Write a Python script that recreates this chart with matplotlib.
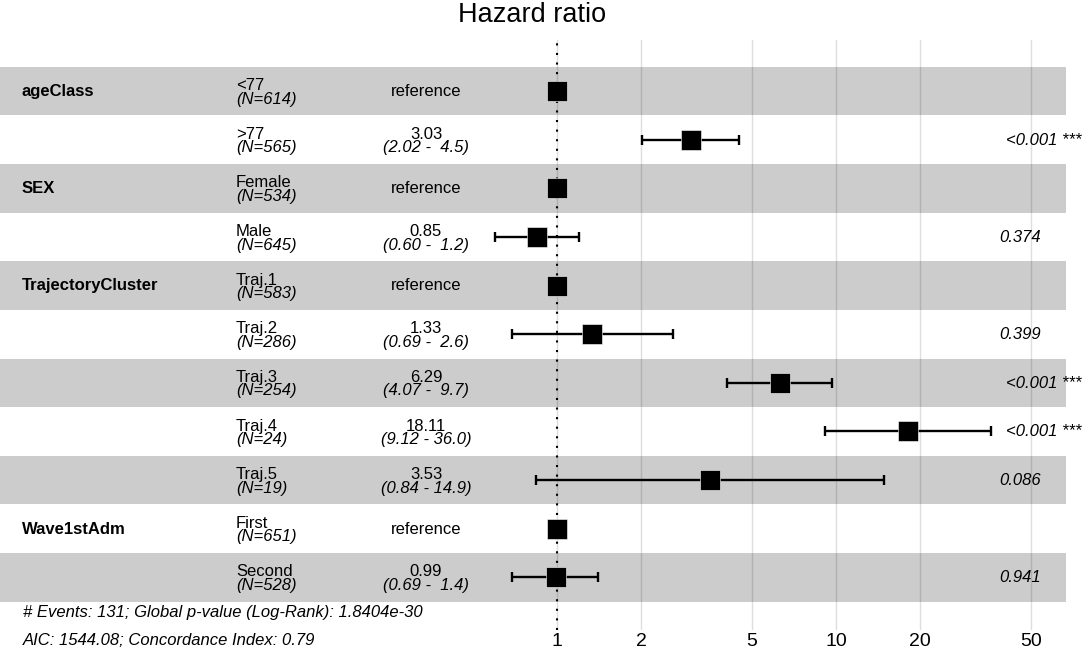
import numpy as np
import matplotlib
matplotlib.use("Agg")
import matplotlib.pyplot as plt
from matplotlib.transforms import blended_transform_factory, offset_copy

plt.rcParams['font.family'] = ['Liberation Sans', 'DejaVu Sans']

# rows of the forest plot, top to bottom
var_labels = ["ageClass", "", "SEX", "", "TrajectoryCluster", "", "", "", "", "Wave1stAdm", ""]
levels = ["<77", ">77", "Female", "Male", "Traj.1", "Traj.2", "Traj.3", "Traj.4", "Traj.5", "First", "Second"]
n_obs = [614, 565, 534, 645, 583, 286, 254, 24, 19, 651, 528]
is_ref = [True, False, True, False, True, False, False, False, False, True, False]
hr = [1, 3.03, 1, 0.85, 1, 1.33, 6.29, 18.11, 3.53, 1, 0.99]
ci_lo = [np.nan, 2.02, np.nan, 0.60, np.nan, 0.69, 4.07, 9.12, 0.84, np.nan, 0.69]
ci_hi = [np.nan, 4.5, np.nan, 1.2, np.nan, 2.6, 9.7, 36.0, 14.9, np.nan, 1.4]
p_labels = ["", "<0.001 ***", "", "0.374", "", "0.399", "<0.001 ***", "<0.001 ***", "0.086", "", "0.941"]

x_ticks = [1, 2, 5, 10, 20, 50]
footnote = ["# Events: 131; Global p-value (Log-Rank): 1.8404e-30",
            "AIC: 1544.08; Concordance Index: 0.79"]

W, H = 1084, 656
fig = plt.figure(figsize=(W / 100, H / 100), dpi=100)
# panel: pixel box x 0..1066, y 40..630 (from top)
ax = fig.add_axes([0, (H - 630) / H, 1066 / W, (630 - 40) / H])
ax.set_xscale('log')
# x=1 sits at px 557, one decade = 279 px
ax.set_xlim(10 ** (-557 / 279), 10 ** ((1066 - 557) / 279))
row_h = 48.64
ax.set_ylim((630 - 91) / row_h, (40 - 91) / row_h)

rows = np.arange(len(levels))
hr = np.array(hr)
ci_lo = np.array(ci_lo)
ci_hi = np.array(ci_hi)

for s in ax.spines.values():
    s.set_visible(False)
ax.set_xticks(x_ticks)
ax.set_xticklabels([str(t) for t in x_ticks])
ax.minorticks_off()
ax.set_yticks([])
ax.tick_params(axis='x', length=0, labelsize=14, pad=2.5)
ax.grid(axis='x', color='#DEDEDE', lw=1.0)
ax.set_axisbelow(True)

# alternating bands
for i in rows[::2]:
    ax.axhspan(i - 0.5, i + 0.5, color='black', alpha=0.2, lw=0, zorder=1)

ax.axvline(1, color='black', lw=1.5, ls=(0, (1, 3.6)), zorder=2)

nr = ~np.array(is_ref)
ax.errorbar(hr[nr], rows[nr], xerr=[hr[nr] - ci_lo[nr], ci_hi[nr] - hr[nr]],
            fmt='none', ecolor='black', elinewidth=1.7, capsize=3.8, capthick=1.7, zorder=3)
ax.plot(hr, rows, 's', ms=14.5, color='black', mec='white', mew=0.4, zorder=4)

# text columns
tr = blended_transform_factory(ax.transAxes, ax.transData)
fs = 12
x_var, x_lev, x_est, x_p = 22 / 1066, 236 / 1066, 426 / 1066, 990 / 1066
for i in rows:
    if var_labels[i]:
        ax.text(x_var, i + 0.1, var_labels[i], transform=tr, fontsize=fs,
                fontweight='bold', ha='left', va='baseline')
    ax.text(x_lev, i - 0.02, levels[i], transform=tr, fontsize=fs, ha='left', va='baseline')
    ax.text(x_lev, i + 0.26, "(N=%d)" % n_obs[i], transform=tr, fontsize=fs,
            style='italic', ha='left', va='baseline')
    if is_ref[i]:
        ax.text(x_est, i + 0.1, "reference", transform=tr, fontsize=fs, ha='center', va='baseline')
    else:
        ax.text(x_est, i - 0.02, "%.2f" % hr[i], transform=tr, fontsize=fs, ha='center', va='baseline')
        ax.text(x_est, i + 0.26, "(%.2f - %4.1f)" % (ci_lo[i], ci_hi[i]), transform=tr,
                fontsize=fs, style='italic', ha='center', va='baseline')

# p-values: left aligned with a small shift proportional to text width (hjust = -0.2)
renderer = fig.canvas.get_renderer()
for i in rows:
    if p_labels[i]:
        t = ax.text(x_p, i + 0.1, p_labels[i], transform=tr, fontsize=fs,
                    style='italic', ha='left', va='baseline')
        w = t.get_window_extent(renderer).width + 4
        t.set_transform(offset_copy(tr, fig=fig, x=0.2 * w, y=0, units='dots'))

fig.text(532 / W, 1 - 22 / H, "Hazard ratio", ha='center', va='baseline', fontsize=19.5)
fig.text(23 / W, 1 - 617 / H, footnote[0], ha='left', va='baseline', fontsize=fs, style='italic')
fig.text(23 / W, 1 - 645 / H, footnote[1], ha='left', va='baseline', fontsize=fs, style='italic')

fig.savefig("out.png", dpi=100)
